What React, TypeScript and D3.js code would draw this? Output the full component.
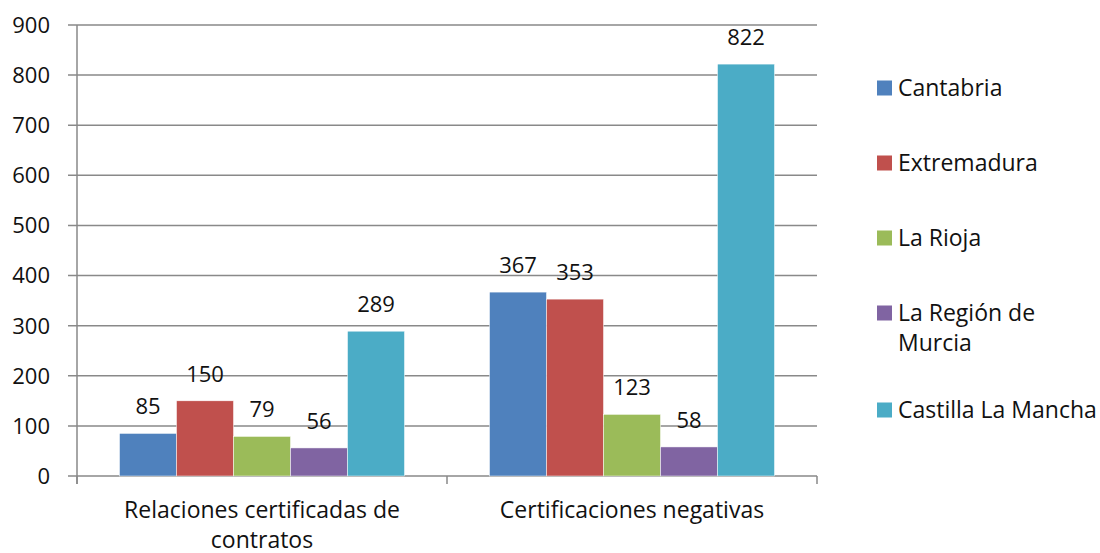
import React from "react";
import * as d3 from "d3";

const categories = ["Relaciones certificadas de contratos", "Certificaciones negativas"];
const categoryLines = [["Relaciones certificadas de", "contratos"], ["Certificaciones negativas"]];
const seriesNames = ["Cantabria", "Extremadura", "La Rioja", "La Región de Murcia", "Castilla La Mancha"];
const legendLines = [["Cantabria"], ["Extremadura"], ["La Rioja"], ["La Región de", "Murcia"], ["Castilla La Mancha"]];
const cantabria = [85, 367];
const extremadura = [150, 353];
const laRioja = [79, 123];
const murcia = [56, 58];
const castilla = [289, 822];
const seriesValues = [cantabria, extremadura, laRioja, murcia, castilla];
const yTicks = [0, 100, 200, 300, 400, 500, 600, 700, 800, 900];
const colors = ["#4F81BD", "#C0504D", "#9BBB59", "#8064A2", "#4BACC6"];

const W = 1100, H = 553;
const left = 77, right = 817, top = 25, bottom = 476;
const FONT = "'Open Sans', 'Noto Sans', sans-serif";

export default function App() {
  const y = d3.scaleLinear().domain([0, 900]).range([bottom, top]);
  const x0 = d3.scaleBand().domain(categories).range([left, right]).paddingInner(0).paddingOuter(0);
  const groupPad = 42.5;
  const x1 = d3.scaleBand().domain(seriesNames).range([groupPad, x0.bandwidth() - groupPad]).padding(0);
  const grid = "#898989";
  return (
    <div style={{ position: "absolute", left: 0, top: 0 }}>
      <svg width={W} height={H} style={{ display: "block", background: "#fff" }} fontFamily={FONT}>
        {yTicks.map((t) => (
          <g key={t}>
            <line x1={68} x2={right} y1={y(t)} y2={y(t)} stroke={grid} strokeWidth={1.5} />
            <text x={50} y={y(t)} dy="0.36em" textAnchor="end" fontSize={22} fill="#111">{t}</text>
          </g>
        ))}
        <line x1={left} x2={left} y1={top} y2={bottom + 8} stroke={grid} strokeWidth={1.5} />
        {[0, 1, 2].map((i) => {
          const xx = left + i * x0.bandwidth();
          return <line key={i} x1={xx} x2={xx} y1={bottom} y2={bottom + 8} stroke={grid} strokeWidth={1.5} />;
        })}
        {categories.map((c, ci) => (
          <g key={c} transform={`translate(${x0(c)},0)`}>
            {seriesNames.map((s, si) => {
              const v = seriesValues[si][ci];
              const bx = x1(s)!;
              return (
                <g key={s}>
                  <rect x={bx} y={y(v)} width={x1.bandwidth()} height={bottom - y(v)} fill={colors[si]} stroke="#fff" strokeWidth={0.5} />
                  <text x={bx + x1.bandwidth() / 2} y={y(v) - 19} textAnchor="middle" fontSize={22} fill="#111">{v}</text>
                </g>
              );
            })}
            {categoryLines[ci].map((ln, li) => (
              <text key={li} x={x0.bandwidth() / 2} y={518 + li * 30} textAnchor="middle" fontSize={23} fill="#111">{ln}</text>
            ))}
          </g>
        ))}
        {seriesNames.map((s, si) => {
          const cy = 88 + si * 75 + (si === 4 ? 22 : 0);
          return (
            <g key={s}>
              <rect x={877} y={cy - 7.5} width={15} height={15} fill={colors[si]} />
              {legendLines[si].map((ln, li) => (
                <text key={li} x={898} y={cy + li * 30} dy="0.36em" fontSize={23} fill="#111">{ln}</text>
              ))}
            </g>
          );
        })}
      </svg>
    </div>
  );
}
